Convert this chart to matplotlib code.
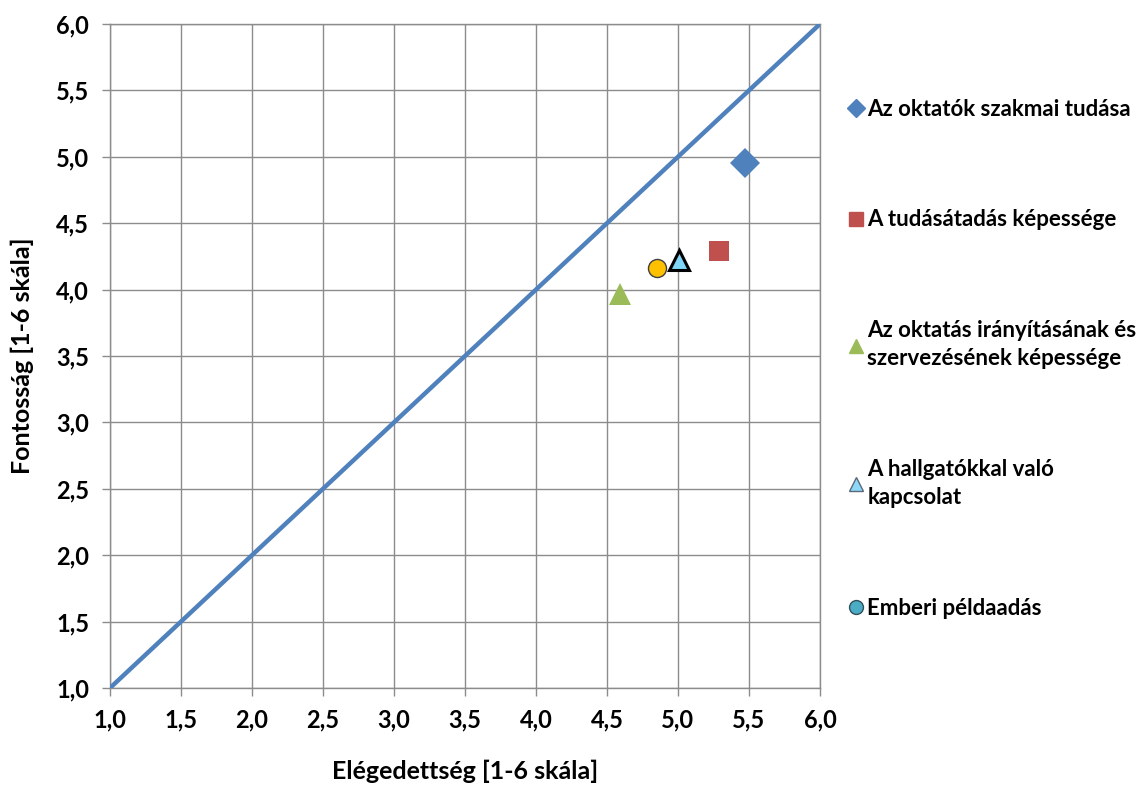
import matplotlib
matplotlib.use("Agg")
import matplotlib.pyplot as plt
from matplotlib.lines import Line2D
from matplotlib.ticker import FuncFormatter, MultipleLocator

plt.rcParams['font.family'] = ['Lato', 'DejaVu Sans']
plt.rcParams['font.weight'] = 'bold'

# adatok (Elégedettség, Fontosság)
labels = ["Az oktatók szakmai tudása",
          "A tudásátadás képessége",
          "Az oktatás irányításának és\nszervezésének képessége",
          "A hallgatókkal való\nkapcsolat",
          "Emberi példaadás"]
satisfaction = [5.47, 5.29, 4.59, 5.01, 4.85]
importance = [4.95, 4.29, 3.97, 4.22, 4.16]

diag_x = [1.0, 6.0]
diag_y = [1.0, 6.0]

# stílusok: pont a diagramon / jelmagyarázatban
markers = ['D', 's', '^', '^', 'o']
sizes = [15, 14, 16, 15, 13]
face = ['#4F81BD', '#C0504D', '#9BBB59', '#7FD6F7', '#FFC000']
edge = ['#4F81BD', '#C0504D', '#9BBB59', '#000000', '#404040']
edge_w = [0, 0, 0, 2.2, 1.0]
leg_face = ['#4F81BD', '#C0504D', '#9BBB59', '#8DD8F8', '#4BACC6']
leg_edge = ['#4F81BD', '#C0504D', '#9BBB59', '#5a6a7a', '#30505a']
leg_ms = [9, 10, 10, 10, 10]

fig = plt.figure(figsize=(11.46, 7.85), dpi=100)
ax = fig.add_axes([0.096, 0.1236, 0.6195, 0.8458])

ax.plot(diag_x, diag_y, color='#4F81BD', lw=3.2, zorder=3)

for i in range(len(labels)):
    ax.plot(satisfaction[i], importance[i], marker=markers[i], ms=sizes[i],
            mfc=face[i], mec=edge[i], mew=edge_w[i], ls='none', zorder=4)

ax.set_xlim(1, 6)
ax.set_ylim(1, 6)
ax.xaxis.set_major_locator(MultipleLocator(0.5))
ax.yaxis.set_major_locator(MultipleLocator(0.5))
fmt = FuncFormatter(lambda v, p: f"{v:.1f}".replace('.', ','))
ax.xaxis.set_major_formatter(fmt)
ax.yaxis.set_major_formatter(fmt)
ax.grid(True, color='#8c8c8c', lw=1.0, zorder=0)
ax.set_axisbelow(True)
for s in ax.spines.values():
    s.set_color('#8c8c8c')
    s.set_linewidth(1.0)
ax.tick_params(axis='both', length=6, width=1, color='#8c8c8c',
               labelsize=17, pad=9)
for t in ax.get_xticklabels() + ax.get_yticklabels():
    t.set_fontweight('bold')

ax.set_xlabel("Elégedettség [1-6 skála]", fontsize=18, fontweight='bold', labelpad=20)
ax.set_ylabel("Fontosság [1-6 skála]", fontsize=18, fontweight='bold', labelpad=16)

handles = [Line2D([], [], marker=markers[i], ms=leg_ms[i], mfc=leg_face[i],
                  mec=leg_edge[i], mew=1.0, ls='none') for i in range(len(labels))]
leg = fig.legend(handles, labels, loc='upper left', bbox_to_anchor=(0.721, 0.9),
                 frameon=False, labelspacing=4.05, handletextpad=0.05,
                 handlelength=0.9, prop={'weight': 'bold', 'size': 16})
for t in leg.get_texts():
    t.set_linespacing(1.4)

fig.savefig("out.png", dpi=100)
